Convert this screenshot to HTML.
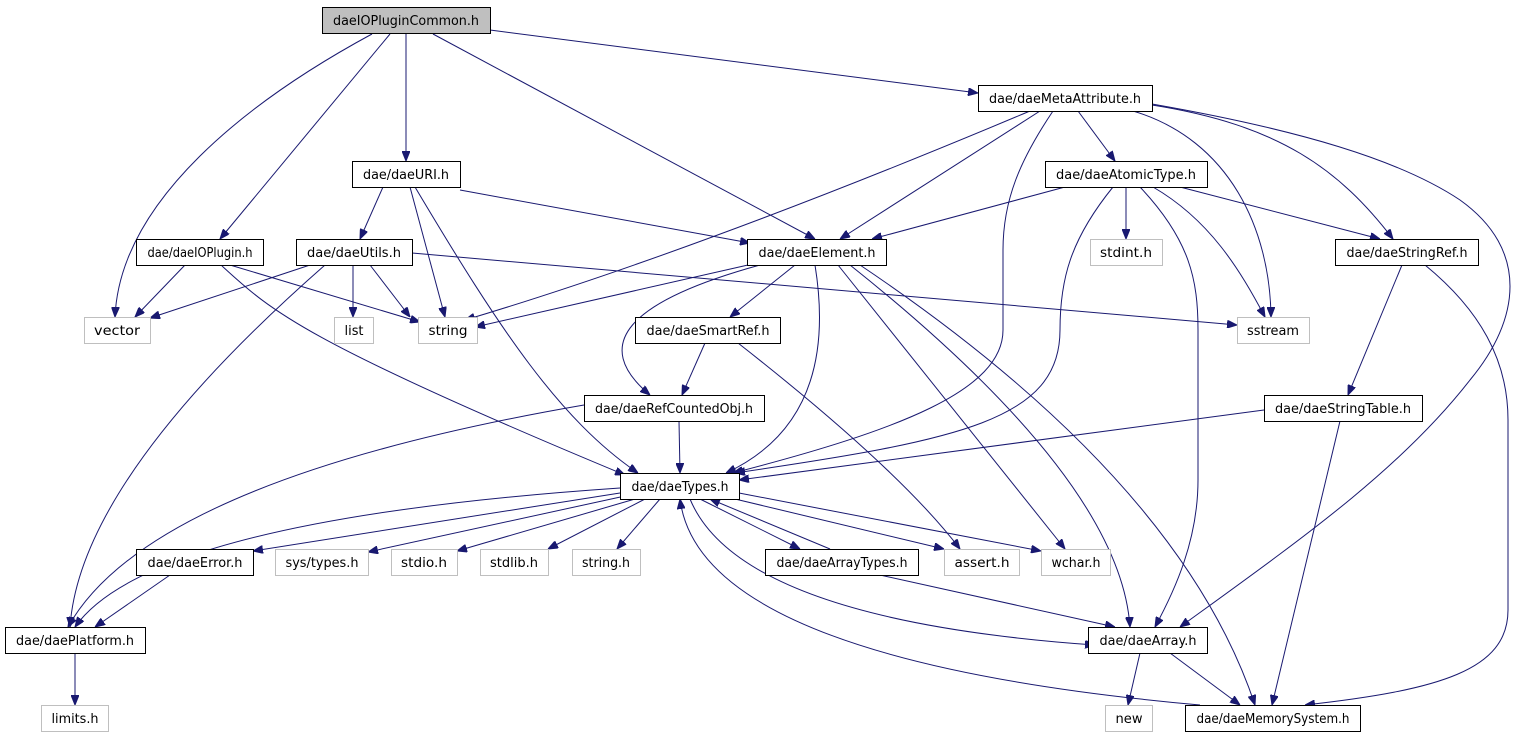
<!DOCTYPE html>
<html><head><meta charset="utf-8"><style>
html,body{margin:0;padding:0;background:#fff;}
svg{display:block;}
text{font-family:"DejaVu Sans","Liberation Sans",sans-serif;font-size:13px;fill:#000;}
.n{fill:#fff;stroke:#000;stroke-width:1;}
.g{fill:#fff;stroke:#bfbfbf;stroke-width:1;}
.e{fill:none;stroke:#191970;stroke-width:1;}
</style></head><body>
<svg width="1513" height="736" viewBox="0 0 1513 736" xmlns="http://www.w3.org/2000/svg">
<defs>
<marker id="a" viewBox="0 0 10 8" refX="10" refY="4" markerWidth="10" markerHeight="8" markerUnits="userSpaceOnUse" orient="auto">
<path d="M0,0 L10,4 L0,8 z" fill="#191970" stroke="#191970"/>
</marker>
</defs>
<g class="e" marker-end="url(#a)">
<path d="M372,34 C250,100 120,200 115,317"/>
<path d="M390,34 L220,239"/>
<path d="M406,34 L406,161"/>
<path d="M433,34 L815,239"/>
<path d="M490,30 L978,93"/>
<path d="M1030,111 Q700,250 465,320"/>
<path d="M1040,111 L840,239"/>
<path d="M1053,111 C1020,160 1003,200 1003,250 L1003,330 C1003,390 900,430 733,473"/>
<path d="M1078,111 L1115,161"/>
<path d="M1133,111 C1230,140 1270,230 1271,317"/>
<path d="M1152,105 C1280,125 1340,170 1393,239"/>
<path d="M1152,104 C1300,130 1400,160 1460,200 C1530,250 1520,320 1470,380 C1400,470 1300,540 1180,627"/>
<path d="M383,187 L360,239"/>
<path d="M410,187 L445,317"/>
<path d="M415,187 C500,330 560,420 638,473"/>
<path d="M460,190 L750,243"/>
<path d="M1065,187 L872,239"/>
<path d="M1113,187 C1070,240 1060,280 1060,330 C1060,420 960,440 735,473"/>
<path d="M1126,187 L1126,239"/>
<path d="M1153,187 C1210,220 1240,270 1265,317"/>
<path d="M1140,187 C1190,240 1198,280 1198,330 L1198,480 C1198,540 1175,590 1155,627"/>
<path d="M1180,187 L1380,239"/>
<path d="M185,265 L135,317"/>
<path d="M230,265 L420,322"/>
<path d="M221,265 C270,310 300,340 625,475"/>
<path d="M310,265 L150,318"/>
<path d="M325,265 Q80,480 70,627"/>
<path d="M353,265 L353,317"/>
<path d="M370,265 L410,317"/>
<path d="M412,253 L1237,325"/>
<path d="M748,265 L475,327"/>
<path d="M760,265 Q560,320 650,395"/>
<path d="M795,265 L730,317"/>
<path d="M815,265 Q840,420 726,473"/>
<path d="M838,265 L1065,549"/>
<path d="M850,265 Q1120,480 1130,627"/>
<path d="M860,265 Q1180,480 1255,705"/>
<path d="M1402,265 L1348,395"/>
<path d="M1425,265 C1480,310 1508,360 1508,420 L1508,610 C1508,670 1440,690 1305,705"/>
<path d="M705,343 L682,395"/>
<path d="M738,343 Q900,470 960,549"/>
<path d="M584,405 Q150,480 68,627"/>
<path d="M679,421 L680,473"/>
<path d="M1264,410 L739,480"/>
<path d="M1340,421 L1272,705"/>
<path d="M620,488 Q150,520 75,627"/>
<path d="M620,493 L253,551"/>
<path d="M625,496 L368,552"/>
<path d="M635,499 L457,551"/>
<path d="M645,499 L548,549"/>
<path d="M660,499 L617,549"/>
<path d="M700,499 L800,549"/>
<path d="M830,549 L710,499"/>
<path d="M735,499 L944,549"/>
<path d="M739,493 L1041,551"/>
<path d="M690,499 Q740,620 1095,645"/>
<path d="M1200,705 Q700,660 680,499"/>
<path d="M170,575 L95,627"/>
<path d="M880,575 L1115,627"/>
<path d="M75,653 L75,705"/>
<path d="M1140,653 L1128,705"/>
<path d="M1170,653 L1240,705"/>
</g>
<g>
<rect x="322.5" y="7.5" width="168" height="26" style="fill:#bfbfbf;stroke:#000"/><text x="406" y="25" text-anchor="middle" textLength="146" lengthAdjust="spacingAndGlyphs">daeIOPluginCommon.h</text>
<rect class="n" x="978.5" y="85.5" width="174" height="26"/><text x="1065" y="103" text-anchor="middle" textLength="152" lengthAdjust="spacingAndGlyphs">dae/daeMetaAttribute.h</text>
<rect class="n" x="352.5" y="161.5" width="108" height="26"/><text x="406" y="179" text-anchor="middle" textLength="86" lengthAdjust="spacingAndGlyphs">dae/daeURI.h</text>
<rect class="n" x="1045.5" y="161.5" width="162" height="26"/><text x="1126" y="179" text-anchor="middle" textLength="140" lengthAdjust="spacingAndGlyphs">dae/daeAtomicType.h</text>
<rect class="n" x="136.5" y="239.5" width="127" height="26"/><text x="200" y="257" text-anchor="middle" textLength="105" lengthAdjust="spacingAndGlyphs">dae/daeIOPlugin.h</text>
<rect class="n" x="296.5" y="239.5" width="116" height="26"/><text x="354" y="257" text-anchor="middle" textLength="94" lengthAdjust="spacingAndGlyphs">dae/daeUtils.h</text>
<rect class="n" x="747.5" y="239.5" width="139" height="26"/><text x="817" y="257" text-anchor="middle" textLength="117" lengthAdjust="spacingAndGlyphs">dae/daeElement.h</text>
<rect class="g" x="1090.5" y="239.5" width="72" height="26"/><text x="1126" y="257" text-anchor="middle" textLength="52" lengthAdjust="spacingAndGlyphs">stdint.h</text>
<rect class="n" x="1335.5" y="239.5" width="143" height="26"/><text x="1407" y="257" text-anchor="middle" textLength="121" lengthAdjust="spacingAndGlyphs">dae/daeStringRef.h</text>
<rect class="g" x="84.5" y="317.5" width="66" height="26"/><text x="117" y="335" text-anchor="middle" textLength="46" lengthAdjust="spacingAndGlyphs">vector</text>
<rect class="g" x="334.5" y="317.5" width="39" height="26"/><text x="354" y="335" text-anchor="middle" textLength="19" lengthAdjust="spacingAndGlyphs">list</text>
<rect class="g" x="418.5" y="317.5" width="59" height="26"/><text x="448" y="335" text-anchor="middle" textLength="39" lengthAdjust="spacingAndGlyphs">string</text>
<rect class="n" x="635.5" y="317.5" width="145" height="26"/><text x="708" y="335" text-anchor="middle" textLength="123" lengthAdjust="spacingAndGlyphs">dae/daeSmartRef.h</text>
<rect class="g" x="1237.5" y="317.5" width="72" height="26"/><text x="1273" y="335" text-anchor="middle" textLength="52" lengthAdjust="spacingAndGlyphs">sstream</text>
<rect class="n" x="584.5" y="395.5" width="180" height="26"/><text x="674" y="413" text-anchor="middle" textLength="158" lengthAdjust="spacingAndGlyphs">dae/daeRefCountedObj.h</text>
<rect class="n" x="1264.5" y="395.5" width="158" height="26"/><text x="1343" y="413" text-anchor="middle" textLength="136" lengthAdjust="spacingAndGlyphs">dae/daeStringTable.h</text>
<rect class="n" x="620.5" y="473.5" width="119" height="26"/><text x="680" y="491" text-anchor="middle" textLength="97" lengthAdjust="spacingAndGlyphs">dae/daeTypes.h</text>
<rect class="n" x="136.5" y="549.5" width="117" height="26"/><text x="195" y="567" text-anchor="middle" textLength="95" lengthAdjust="spacingAndGlyphs">dae/daeError.h</text>
<rect class="g" x="275.5" y="549.5" width="93" height="26"/><text x="322" y="567" text-anchor="middle" textLength="73" lengthAdjust="spacingAndGlyphs">sys/types.h</text>
<rect class="g" x="391.5" y="549.5" width="66" height="26"/><text x="424" y="567" text-anchor="middle" textLength="46" lengthAdjust="spacingAndGlyphs">stdio.h</text>
<rect class="g" x="480.5" y="549.5" width="68" height="26"/><text x="514" y="567" text-anchor="middle" textLength="48" lengthAdjust="spacingAndGlyphs">stdlib.h</text>
<rect class="g" x="572.5" y="549.5" width="68" height="26"/><text x="606" y="567" text-anchor="middle" textLength="48" lengthAdjust="spacingAndGlyphs">string.h</text>
<rect class="n" x="765.5" y="549.5" width="153" height="26"/><text x="842" y="567" text-anchor="middle" textLength="131" lengthAdjust="spacingAndGlyphs">dae/daeArrayTypes.h</text>
<rect class="g" x="944.5" y="549.5" width="75" height="26"/><text x="982" y="567" text-anchor="middle" textLength="55" lengthAdjust="spacingAndGlyphs">assert.h</text>
<rect class="g" x="1041.5" y="549.5" width="69" height="26"/><text x="1076" y="567" text-anchor="middle" textLength="49" lengthAdjust="spacingAndGlyphs">wchar.h</text>
<rect class="n" x="5.5" y="627.5" width="140" height="26"/><text x="75" y="645" text-anchor="middle" textLength="118" lengthAdjust="spacingAndGlyphs">dae/daePlatform.h</text>
<rect class="n" x="1088.5" y="627.5" width="119" height="26"/><text x="1148" y="645" text-anchor="middle" textLength="97" lengthAdjust="spacingAndGlyphs">dae/daeArray.h</text>
<rect class="g" x="41.5" y="705.5" width="67" height="26"/><text x="75" y="723" text-anchor="middle" textLength="47" lengthAdjust="spacingAndGlyphs">limits.h</text>
<rect class="g" x="1105.5" y="705.5" width="47" height="26"/><text x="1129" y="723" text-anchor="middle" textLength="27" lengthAdjust="spacingAndGlyphs">new</text>
<rect class="n" x="1185.5" y="705.5" width="175" height="26"/><text x="1273" y="723" text-anchor="middle" textLength="153" lengthAdjust="spacingAndGlyphs">dae/daeMemorySystem.h</text>
</g>
</svg>
</body></html>
